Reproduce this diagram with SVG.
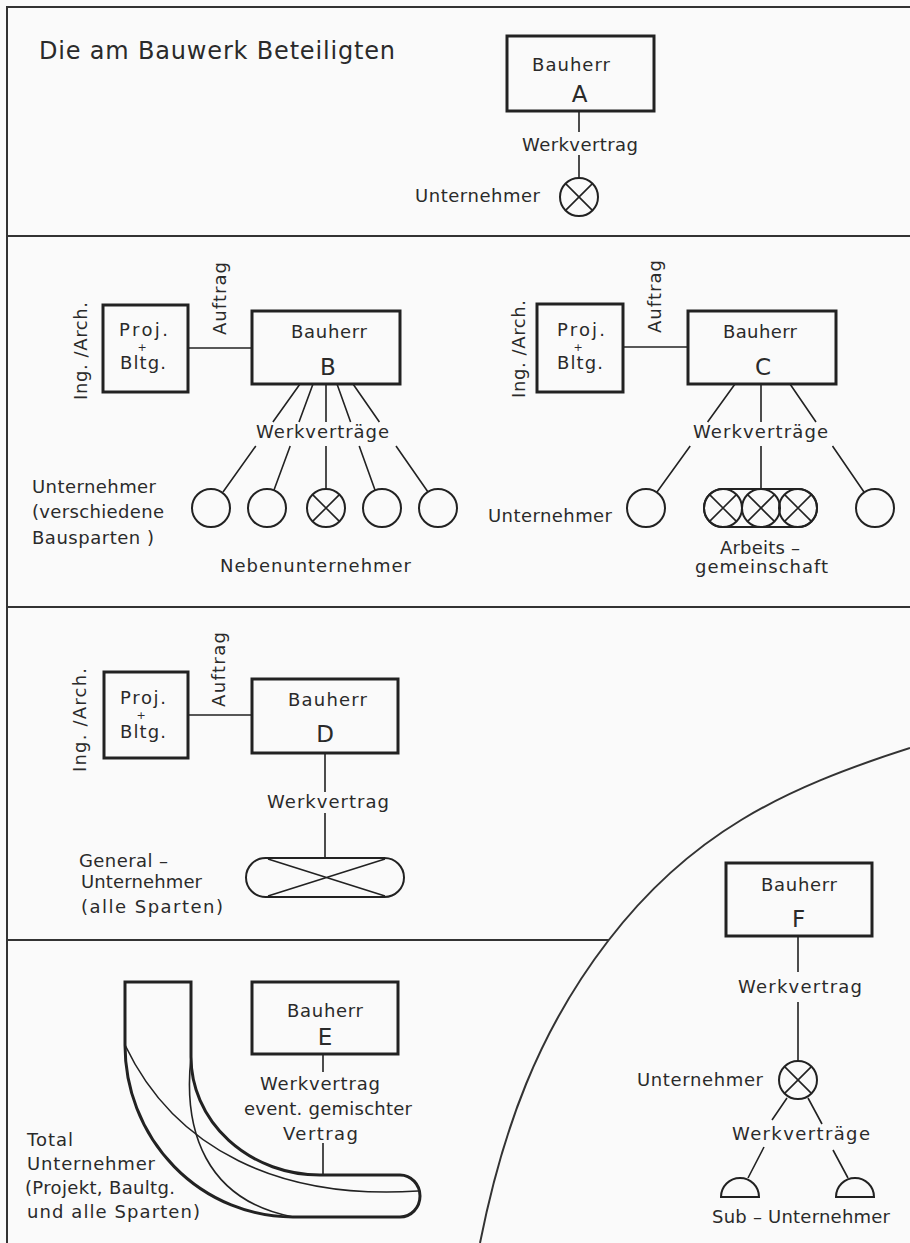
<svg xmlns="http://www.w3.org/2000/svg" width="910" height="1243" viewBox="0 0 910 1243">
<style>
.t{font-family:"DejaVu Sans","Liberation Sans",sans-serif;font-size:18px;fill:#2a2a2a}
.big{font-size:23px}
.sm{font-size:11px}
.ttl{font-size:24px}
.box{fill:none;stroke:#222;stroke-width:3}
.ln{fill:none;stroke:#222;stroke-width:1.6}
.sym{fill:none;stroke:#222;stroke-width:2}
.frm{fill:none;stroke:#333;stroke-width:2}
.thk{fill:none;stroke:#222;stroke-width:3}
</style>
<defs>
<g id="xc"><circle r="19" class="sym"/><path d="M-13.4,-13.4L13.4,13.4M-13.4,13.4L13.4,-13.4" class="ln"/></g>
<circle id="oc" r="19" class="sym"/>
</defs>
<rect width="910" height="1243" fill="#fafafa"/>

<g id="frame">
<path class="frm" d="M7,1243V7H910M7,236H910M7,607H910M7,940H609"/>
<path class="frm" d="M910,748C781.5,789 690,834 608,941C538,1032 502.5,1130 480,1243"/>
</g>

<text class="t ttl" x="39" y="59" textLength="356">Die am Bauwerk Beteiligten</text>

<g id="connectors">
<path class="ln" d="M579,111V132M579,155V178"/>
<path class="ln" d="M188,348H252"/>
<path class="ln" d="M300,384L272.9,422M255.8,446L223,492M313,384L299,422M290.2,446L274,490M326,384V422M326,446V489M337,384L350.6,422M359.2,446L375,490M353,384L379.4,422M396,446L428,492"/>
<path class="ln" d="M623,347H688"/>
<path class="ln" d="M735,384L707.6,422M690.2,446L657,492M761,384V422M761,446V489M790,384L816,422M832.5,446L864,492"/>
<path class="ln" d="M188,715H252M325,753V792M325,813V858"/>
<path class="ln" d="M323,1055V1072M323,1143V1175"/>
<path class="ln" d="M798,936V972M798,1002V1061"/>
<path class="ln" d="M787,1098L772,1120M764,1147L748,1178M808,1098L822,1124M833,1150L848,1178"/>
</g>

<g id="A">
<rect class="box" x="507" y="36" width="147" height="75"/>
<text class="t" x="532" y="71" textLength="78">Bauherr</text>
<text class="t big" x="579.5" y="102" text-anchor="middle">A</text>
<text class="t" x="522" y="151" textLength="116">Werkvertrag</text>
<use href="#xc" x="579" y="197"/>
<text class="t" x="415" y="202" textLength="125">Unternehmer</text>
</g>

<g id="B-arch">
<rect class="box" x="103" y="305" width="85" height="87"/>
<text class="t" x="119" y="336" textLength="49">Proj.</text>
<text class="t sm" x="142" y="351" text-anchor="middle">+</text>
<text class="t" x="120" y="369" textLength="46">Bltg.</text>
<text class="t" transform="translate(87,400) rotate(-90)" textLength="98">Ing. /Arch.</text>
<text class="t" transform="translate(226,335) rotate(-90)" textLength="73">Auftrag</text>
</g>
<g id="B">
<rect class="box" x="252" y="311" width="148" height="73"/>
<text class="t" x="291" y="338" textLength="76">Bauherr</text>
<text class="t big" x="328" y="375" text-anchor="middle">B</text>
<text class="t" x="256" y="438" textLength="133">Werkverträge</text>
</g>
<g id="B-untern">
<use href="#oc" x="211" y="508"/>
<use href="#oc" x="267" y="508"/>
<use href="#xc" x="326" y="508"/>
<use href="#oc" x="382" y="508"/>
<use href="#oc" x="438" y="508"/>
<text class="t" x="32" y="493" textLength="124">Unternehmer</text>
<text class="t" x="32" y="518" textLength="132">(verschiedene</text>
<text class="t" x="32" y="544" textLength="122">Bausparten )</text>
<text class="t" x="220" y="572" textLength="191">Nebenunternehmer</text>
</g>

<g id="C-arch">
<rect class="box" x="537" y="304" width="86" height="88"/>
<text class="t" x="557" y="336" textLength="48">Proj.</text>
<text class="t sm" x="578" y="351" text-anchor="middle">+</text>
<text class="t" x="557" y="369" textLength="46">Bltg.</text>
<text class="t" transform="translate(525,398) rotate(-90)" textLength="98">Ing. /Arch.</text>
<text class="t" transform="translate(661,333) rotate(-90)" textLength="73">Auftrag</text>
</g>
<g id="C">
<rect class="box" x="688" y="311" width="148" height="73"/>
<text class="t" x="723" y="338" textLength="74">Bauherr</text>
<text class="t big" x="763" y="375" text-anchor="middle">C</text>
<text class="t" x="693" y="438" textLength="135">Werkverträge</text>
</g>
<g id="C-untern">
<use href="#oc" x="646" y="508"/>
<text class="t" x="488" y="522" textLength="124">Unternehmer</text>
<use href="#oc" x="875" y="508"/>
</g>
<g id="C-arge">
<rect class="sym" x="704" y="489" width="113" height="38" rx="19"/>
<use href="#xc" x="723" y="508"/>
<use href="#xc" x="761" y="508"/>
<use href="#xc" x="798" y="508"/>
<text class="t" x="720" y="554" textLength="80">Arbeits –</text>
<text class="t" x="695" y="573" textLength="133">gemeinschaft</text>
</g>

<g id="D-arch">
<rect class="box" x="104" y="672" width="84" height="86"/>
<text class="t" x="120" y="704" textLength="46">Proj.</text>
<text class="t sm" x="141" y="719" text-anchor="middle">+</text>
<text class="t" x="120" y="738" textLength="46">Bltg.</text>
<text class="t" transform="translate(86,772) rotate(-90)" textLength="104">Ing. /Arch.</text>
<text class="t" transform="translate(225,707) rotate(-90)" textLength="75">Auftrag</text>
</g>
<g id="D">
<rect class="box" x="252" y="679" width="146" height="74"/>
<text class="t" x="288" y="706" textLength="79">Bauherr</text>
<text class="t big" x="325" y="742" text-anchor="middle">D</text>
<text class="t" x="267" y="808" textLength="122">Werkvertrag</text>
</g>
<g id="D-gu">
<rect class="sym" x="246" y="858" width="158" height="39" rx="19.5"/>
<path class="ln" d="M268,859L385,896M268,896L385,859"/>
<text class="t" x="79" y="867" textLength="89">General –</text>
<text class="t" x="81" y="888" textLength="121">Unternehmer</text>
<text class="t" x="81" y="913" textLength="142">(alle Sparten)</text>
</g>

<g id="E">
<rect class="box" x="252" y="982" width="146" height="72"/>
<text class="t" x="287" y="1017" textLength="76">Bauherr</text>
<text class="t big" x="325" y="1045" text-anchor="middle">E</text>
<text class="t" x="260" y="1090" textLength="120">Werkvertrag</text>
<text class="t" x="244" y="1115" textLength="168">event. gemischter</text>
<text class="t" x="283" y="1140" textLength="75">Vertrag</text>
</g>
<g id="E-tu">
<path class="thk" d="M125,982H191V1057A129,118 0 0 0 320,1175H400A20,21 0 0 1 400,1217H293A168,172 0 0 1 125,1045Z"/>
<path class="ln" d="M125,1045C175,1150 280,1200 418,1191"/>
<path class="ln" d="M191,1057C183,1130 205,1200 293,1217"/>
<text class="t" x="27" y="1146" textLength="46">Total</text>
<text class="t" x="27" y="1170" textLength="128">Unternehmer</text>
<text class="t" x="25" y="1194" textLength="150">(Projekt, Baultg.</text>
<text class="t" x="27" y="1218" textLength="173">und alle Sparten)</text>
</g>

<g id="F">
<rect class="box" x="726" y="863" width="146" height="73"/>
<text class="t" x="761" y="891" textLength="76">Bauherr</text>
<text class="t big" x="798.5" y="927" text-anchor="middle">F</text>
<text class="t" x="738" y="993" textLength="124">Werkvertrag</text>
</g>
<g id="F-untern">
<use href="#xc" x="798" y="1080"/>
<text class="t" x="637" y="1086" textLength="126">Unternehmer</text>
<text class="t" x="732" y="1140" textLength="138">Werkverträge</text>
</g>
<g id="F-sub">
<path class="sym" d="M721,1197A19,19 0 0 1 759,1197Z"/>
<path class="sym" d="M836,1197A19,19 0 0 1 874,1197Z"/>
<text class="t" x="712" y="1223" textLength="178">Sub – Unternehmer</text>
</g>
</svg>
